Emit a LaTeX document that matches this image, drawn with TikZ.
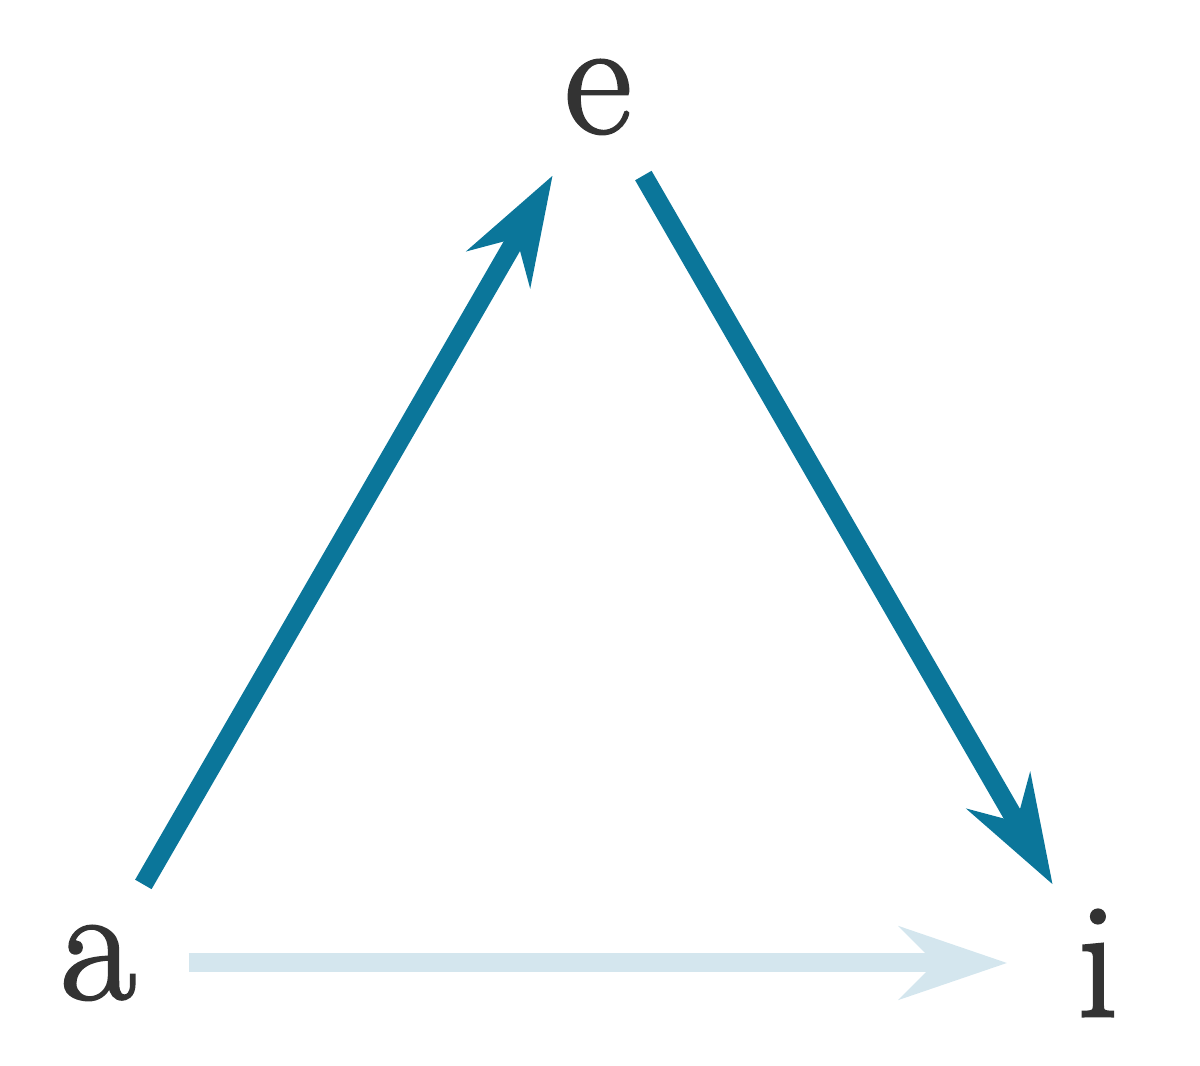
\documentclass[tikz,border=0pt]{standalone}
\usepackage{fontspec}
\newfontfamily\letterfont{Latin Modern Roman}[FakeBold=1.6]
\usetikzlibrary{arrows.meta}
\definecolor{txt}{HTML}{333333}
\definecolor{dark}{HTML}{0B769A}
\definecolor{light}{HTML}{D4E6EE}
\begin{document}
\begin{tikzpicture}[
  letter/.style={circle, minimum size=1.8cm, inner sep=0pt, text=txt,
    font=\letterfont\fontsize{47}{50}\selectfont},
  edge/.style={line width=5.4pt, -{Stealth[length=30.5pt, width=20.5pt, inset=10pt]}},
]
\useasboundingbox (0,0) rectangle (12,10.66);
\node[letter] (a) at (0.98,1.03) {a};
\node[letter] (e) at (5.98,9.69) {e};
\node[letter] (i) at (10.98,1.03) {i};
\draw[edge, dark] (a) -- (e);
\draw[edge, dark] (e) -- (i);
\draw[edge, light] (a) -- (i);
\end{tikzpicture}
\end{document}
